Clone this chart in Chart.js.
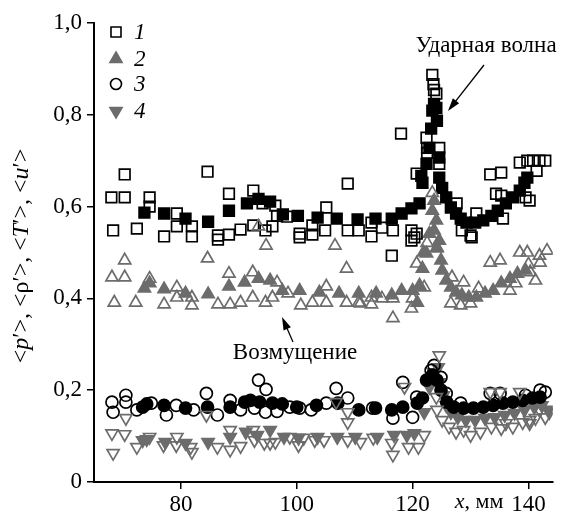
<!DOCTYPE html>
<html>
<head>
    <meta charset="utf-8">
    <title>Ударная волна и возмущение</title>
    <script src="https://cdn.jsdelivr.net/npm/chart.js@4.4.0/dist/chart.umd.min.js"></script>
    <style>
        body {
            margin: 0;
            background-color: white;
        }
        #wrap {
            width: 562px;
            height: 515px;
        }
    </style>
</head>
<body>
    <div id="wrap"><canvas id="myChart" width="562" height="515"></canvas></div>

    <script>
        const xTicks = [80, 100, 120, 140];
        const yTicks = [0, 0.2, 0.4, 0.6, 0.8, 1.0];
        const yTickLabels = ['0', '0,2', '0,4', '0,6', '0,8', '1,0'];

        // series 1: open and filled squares  [x mm, value]
        const s1Open = [
            [68.0,0.620],[70.3,0.670],[70.3,0.620],[74.6,0.620],[74.6,0.600],[68.3,0.548],[72.4,0.552],
            [77.1,0.535],[79.3,0.585],[79.3,0.557],[81.9,0.557],[81.9,0.535],[84.6,0.676],[86.4,0.537],
            [86.4,0.528],[88.3,0.628],[88.3,0.539],[90.3,0.550],[92.5,0.635],[92.5,0.559],[94.6,0.548],
            [94.1,0.607],[96.3,0.602],[96.6,0.580],[95.8,0.557],[98.3,0.578],[100.5,0.541],[100.5,0.533],
            [102.7,0.559],[102.7,0.539],[105.1,0.598],[104.9,0.548],[108.8,0.650],[108.8,0.548],[110.7,0.548],
            [112.9,0.565],[112.9,0.535],[114.7,0.554],[116.6,0.548],[116.4,0.493],[118.0,0.759],[119.8,0.548],
            [120.3,0.533],[119.8,0.526],[120.7,0.541],[120.7,0.672],[123.4,0.887],[123.6,0.867],[123.7,0.854],
            [124.1,0.846],[122.4,0.750],[122.5,0.728],[122.5,0.717],[124.6,0.728],[124.6,0.693],[127.6,0.607],
            [128.5,0.548],[130.0,0.537],[130.2,0.533],[131.0,0.585],[133.4,0.670],[135.3,0.674],[135.6,0.574],
            [134.4,0.628],[135.3,0.624],[138.5,0.696],[139.8,0.700],[140.8,0.700],[141.9,0.700],[142.9,0.700],
            [139.5,0.620],[140.2,0.613],[141.4,0.678]
        ];
        const s1Filled = [
            [73.7,0.587],[77.1,0.585],[80.8,0.574],[84.7,0.567],[88.3,0.591],[91.4,0.607],[93.4,0.617],
            [95.4,0.611],[97.6,0.583],[100.2,0.580],[103.6,0.576],[106.9,0.574],[110.5,0.572],[113.6,0.574],
            [116.4,0.574],[118.1,0.585],[119.8,0.596],[121.2,0.607],[121.5,0.667],[121.7,0.652],[122.4,0.693],
            [122.9,0.728],[123.2,0.770],[123.4,0.809],[124.1,0.815],[124.2,0.787],[123.7,0.824],[124.6,0.707],
            [124.6,0.663],[125.1,0.641],[125.8,0.620],[126.6,0.598],[127.5,0.585],[128.3,0.574],[129.3,0.565],
            [130.8,0.565],[132.2,0.570],[133.6,0.580],[134.7,0.591],[136.1,0.607],[137.3,0.620],[138.5,0.635],
            [139.3,0.652],[139.8,0.663]
        ];

        // series 2: filled and open triangles
        const s2Open = [
            [70.3,0.483],[68.1,0.446],[70.3,0.446],[74.6,0.443],[68.5,0.391],[72.2,0.391],[77.1,0.387],
            [79.3,0.424],[79.3,0.402],[81.9,0.402],[81.9,0.385],[84.6,0.487],[86.4,0.387],[88.5,0.387],
            [88.3,0.454],[90.3,0.391],[92.4,0.457],[92.4,0.402],[94.6,0.391],[94.7,0.515],[93.4,0.557],
            [96.6,0.435],[95.8,0.402],[98.5,0.411],[100.7,0.385],[102.7,0.391],[105.1,0.426],[105.1,0.391],
            [106.6,0.515],[108.6,0.465],[108.6,0.391],[110.7,0.391],[112.9,0.402],[112.9,0.387],
            [111.0,0.389],[114.7,0.400],[116.6,0.357],[116.6,0.400],[119.8,0.378],[120.0,0.400],[122.0,0.424],
            [120.7,0.476],[123.4,0.630],[122.5,0.521],[124.2,0.509],[126.8,0.446],[128.8,0.435],[126.6,0.389],
            [128.3,0.385],[130.0,0.389],[131.4,0.422],[133.4,0.478],[135.1,0.483],[138.5,0.500],[139.8,0.500],
            [141.9,0.493],[143.2,0.504],[137.8,0.433],[136.8,0.417],[140.3,0.457],[142.0,0.478],[141.2,0.439],
            [140.0,0.474]
        ];
        const s2Filled = [
            [73.7,0.422],[74.6,0.433],[77.1,0.420],[80.8,0.411],[84.7,0.409],[88.3,0.426],[91.0,0.435],
            [93.4,0.443],[95.4,0.439],[97.5,0.417],[100.5,0.417],[103.9,0.413],[107.3,0.411],[110.7,0.411],
            [113.7,0.411],[116.4,0.407],[118.1,0.417],[120.0,0.417],[121.2,0.428],[120.8,0.391],[121.7,0.465],
            [122.4,0.498],[124.2,0.511],[122.9,0.541],[123.7,0.613],[123.4,0.591],[124.1,0.570],[123.7,0.548],
            [124.6,0.526],[121.9,0.500],[124.9,0.483],[125.1,0.461],[125.8,0.439],[126.6,0.424],[127.5,0.413],
            [128.5,0.407],[129.7,0.402],[131.0,0.402],[132.5,0.411],[133.9,0.417],[135.3,0.433],[136.8,0.443],
            [138.1,0.454],[139.5,0.461]
        ];

        // series 3: open and filled circles
        const s3Open = [
            [68.1,0.174],[68.3,0.152],[70.5,0.189],[70.5,0.174],[72.4,0.157],[74.9,0.172],[77.5,0.146],
            [79.2,0.167],[82.2,0.157],[84.4,0.193],[86.3,0.146],[88.5,0.178],[90.3,0.157],[93.4,0.222],
            [94.7,0.202],[94.6,0.152],[92.7,0.161],[96.6,0.154],[98.8,0.163],[100.5,0.161],[102.5,0.157],
            [105.1,0.172],[106.8,0.204],[108.8,0.183],[113.1,0.161],[116.6,0.139],[118.3,0.217],[120.0,0.141],
            [120.7,0.185],[123.2,0.243],[123.7,0.254],[124.9,0.228],[125.8,0.193],[128.3,0.172],[133.4,0.193],
            [135.1,0.193],[139.5,0.189],[142.0,0.200],[142.9,0.196]
        ];
        const s3Filled = [
            [73.4,0.163],[74.1,0.170],[77.1,0.167],[80.8,0.161],[84.6,0.163],[88.5,0.163],[91.0,0.174],
            [92.0,0.178],[93.6,0.174],[95.8,0.172],[97.5,0.170],[100.0,0.163],[103.4,0.167],[107.1,0.172],
            [110.7,0.157],[113.6,0.161],[116.4,0.157],[118.3,0.163],[120.8,0.172],[121.7,0.183],[122.4,0.222],
            [123.4,0.233],[124.2,0.222],[124.9,0.200],[125.9,0.174],[127.1,0.163],[128.8,0.161],[130.5,0.161],
            [132.2,0.163],[133.9,0.167],[135.6,0.172],[137.3,0.174],[139.0,0.178],[140.7,0.183],[142.0,0.185]
        ];

        // series 4: filled and open inverted triangles
        const s4Open = [
            [68.1,0.106],[68.3,0.063],[70.3,0.104],[70.5,0.139],[72.4,0.076],[74.6,0.098],[77.0,0.080],
            [79.3,0.098],[79.2,0.080],[81.7,0.076],[81.9,0.065],[84.4,0.146],[86.3,0.076],[88.5,0.113],
            [88.5,0.070],[90.3,0.078],[92.5,0.113],[92.7,0.091],[94.4,0.085],[95.4,0.085],[96.3,0.087],
            [98.8,0.098],[100.3,0.080],[101.2,0.096],[103.1,0.091],[104.7,0.091],[106.8,0.174],[108.8,0.152],
            [108.8,0.130],[108.8,0.091],[111.0,0.087],[113.2,0.096],[116.4,0.085],[116.6,0.059],[118.6,0.207],
            [119.3,0.076],[121.0,0.076],[122.0,0.102],[124.6,0.276],[124.1,0.185],[124.2,0.157],[125.1,0.135],
            [126.3,0.120],[127.5,0.109],[128.8,0.113],[130.0,0.102],[131.7,0.109],[133.6,0.120],[135.3,0.117],
            [137.3,0.120],[139.0,0.130],[140.2,0.135],[141.2,0.139],[142.9,0.141],[133.4,0.196],[135.1,0.196],
            [138.5,0.196],[136.1,0.128],[140.2,0.128],[143.6,0.152],[141.9,0.157]
        ];
        const s4Filled = [
            [73.4,0.091],[74.1,0.093],[77.3,0.087],[80.8,0.085],[84.7,0.087],[88.5,0.098],[91.2,0.109],
            [93.2,0.102],[95.4,0.113],[97.8,0.098],[100.3,0.096],[103.6,0.098],[107.0,0.098],[110.1,0.098],
            [113.9,0.098],[116.8,0.102],[119.0,0.102],[120.3,0.106],[122.0,0.152],[122.9,0.207],[123.6,0.239],
            [124.4,0.250],[124.6,0.217],[125.3,0.189],[125.8,0.167],[126.6,0.152],[127.8,0.141],[129.2,0.135],
            [130.8,0.135],[132.5,0.139],[134.2,0.141],[135.9,0.146],[137.6,0.150],[139.3,0.157],[141.0,0.163],
            [142.3,0.167],[143.5,0.157]
        ];

        const legendLabels = ['1', '2', '3', '4'];

        const GRAY = '#6c6c6c';
        const SERIF = '"Liberation Serif", "DejaVu Serif", serif';

        function pts(arr) {
            return arr.map(p => ({x: p[0], y: p[1]}));
        }

        function ds(arr, style, rot, r, fill, border) {
            return {
                data: pts(arr),
                pointStyle: style,
                rotation: rot,
                pointRadius: r,
                pointHoverRadius: r,
                backgroundColor: fill,
                borderColor: border,
                borderWidth: 1.7,
                showLine: false
            };
        }

        function marker(ctx, kind, x, y) {
            ctx.save();
            ctx.lineWidth = 1.6;
            ctx.beginPath();
            if (kind === 'square') {
                ctx.rect(x - 5, y - 5, 10, 10);
                ctx.strokeStyle = '#000';
                ctx.stroke();
            } else if (kind === 'circle') {
                ctx.arc(x, y, 5.5, 0, Math.PI * 2);
                ctx.strokeStyle = '#000';
                ctx.stroke();
            } else {
                const d = kind === 'up' ? 1 : -1;
                const r = 7;
                ctx.moveTo(x, y - d * r);
                ctx.lineTo(x + r * 0.866, y + d * r * 0.5);
                ctx.lineTo(x - r * 0.866, y + d * r * 0.5);
                ctx.closePath();
                ctx.fillStyle = GRAY;
                ctx.strokeStyle = GRAY;
                ctx.fill();
                ctx.stroke();
            }
            ctx.restore();
        }

        function arrow(ctx, x1, y1, x2, y2) {
            const a = Math.atan2(y2 - y1, x2 - x1);
            ctx.save();
            ctx.strokeStyle = '#000';
            ctx.fillStyle = '#000';
            ctx.lineWidth = 1.3;
            ctx.beginPath();
            ctx.moveTo(x1, y1);
            ctx.lineTo(x2 - 8 * Math.cos(a), y2 - 8 * Math.sin(a));
            ctx.stroke();
            ctx.beginPath();
            ctx.moveTo(x2, y2);
            ctx.lineTo(x2 - 13 * Math.cos(a) + 4 * Math.sin(a), y2 - 13 * Math.sin(a) - 4 * Math.cos(a));
            ctx.lineTo(x2 - 13 * Math.cos(a) - 4 * Math.sin(a), y2 - 13 * Math.sin(a) + 4 * Math.cos(a));
            ctx.closePath();
            ctx.fill();
            ctx.restore();
        }

        // draws text pieces one after another, some italic
        function richText(ctx, parts, x, y, size) {
            let total = 0;
            parts.forEach(p => {
                ctx.font = (p[1] ? 'italic ' : '') + size + 'px ' + SERIF;
                total += ctx.measureText(p[0]).width;
            });
            let cx = x - total / 2;
            parts.forEach(p => {
                ctx.font = (p[1] ? 'italic ' : '') + size + 'px ' + SERIF;
                ctx.fillText(p[0], cx, y);
                cx += ctx.measureText(p[0]).width;
            });
        }

        const extras = {
            id: 'extras',
            afterDraw(chart) {
                const ctx = chart.ctx;
                ctx.save();
                ctx.fillStyle = '#000';
                ctx.textBaseline = 'middle';
                ctx.textAlign = 'left';

                // legend
                const kinds = ['square', 'up', 'circle', 'down'];
                const ly = [32, 59, 84, 111];
                kinds.forEach((k, i) => {
                    marker(ctx, k, 116, ly[i]);
                    ctx.fillStyle = '#000';
                    ctx.font = 'italic 23px ' + SERIF;
                    ctx.fillText(legendLabels[i], 134, ly[i] + 1);
                });

                // annotations
                ctx.font = '23px ' + SERIF;
                ctx.textAlign = 'center';
                ctx.fillText('Ударная волна', 486, 46);
                arrow(ctx, 484, 65, 448, 111);
                ctx.fillText('Возмущение', 295, 353);
                arrow(ctx, 293, 342, 282, 317);

                // x axis title
                ctx.textAlign = 'left';
                richText(ctx, [['x', true], [', мм', false]], 479, 502, 22);

                // y axis title
                ctx.save();
                ctx.translate(22, 256);
                ctx.rotate(-Math.PI / 2);
                richText(ctx, [
                    ['<', false], ['p', true], ['′>, <ρ′>, <', false], ['T', true],
                    ['′>, <', false], ['u', true], ['′>', false]
                ], 0, 0, 24);
                ctx.restore();

                ctx.restore();
            }
        };

        const ctx = document.getElementById('myChart').getContext('2d');
        const chart = new Chart(ctx, {
            type: 'scatter',
            data: {
                datasets: [
                    ds(s4Open, 'triangle', 180, 7, 'rgba(0,0,0,0)', GRAY),
                    ds(s2Open, 'triangle', 0, 7, 'rgba(0,0,0,0)', GRAY),
                    ds(s1Open, 'rect', 0, 7.5, 'rgba(0,0,0,0)', '#000'),
                    ds(s3Open, 'circle', 0, 6, 'rgba(0,0,0,0)', '#000'),
                    ds(s1Filled, 'rect', 0, 7.5, '#000', '#000'),
                    ds(s3Filled, 'circle', 0, 6, '#000', '#000'),
                    ds(s2Filled, 'triangle', 0, 7, GRAY, GRAY),
                    ds(s4Filled, 'triangle', 180, 7, GRAY, GRAY)
                ]
            },
            options: {
                responsive: false,
                animation: false,
                layout: {
                    padding: {left: 0, top: 23, right: 0, bottom: 0}
                },
                plugins: {
                    legend: {display: false},
                    tooltip: {enabled: false}
                },
                scales: {
                    x: {
                        type: 'linear',
                        min: 65,
                        max: 144.2,
                        afterBuildTicks: s => { s.ticks = xTicks.map(v => ({value: v})); },
                        afterFit: s => { s.height = 33; },
                        ticks: {
                            color: '#000',
                            padding: 2,
                            maxRotation: 0,
                            font: {family: SERIF, size: 23}
                        },
                        grid: {
                            drawOnChartArea: false,
                            drawTicks: true,
                            tickLength: 7,
                            color: '#000',
                            lineWidth: 1.5
                        },
                        border: {display: true, color: '#000', width: 2}
                    },
                    y: {
                        min: 0,
                        max: 1,
                        afterBuildTicks: s => { s.ticks = yTicks.map(v => ({value: v})); },
                        afterFit: s => { s.width = 94; },
                        ticks: {
                            color: '#000',
                            padding: 5,
                            font: {family: SERIF, size: 23},
                            callback: (v, i) => yTickLabels[i]
                        },
                        grid: {
                            drawOnChartArea: false,
                            drawTicks: true,
                            tickLength: 7,
                            color: '#000',
                            lineWidth: 1.5
                        },
                        border: {display: true, color: '#000', width: 2}
                    }
                }
            },
            plugins: [extras]
        });
    </script>
</body>
</html>
